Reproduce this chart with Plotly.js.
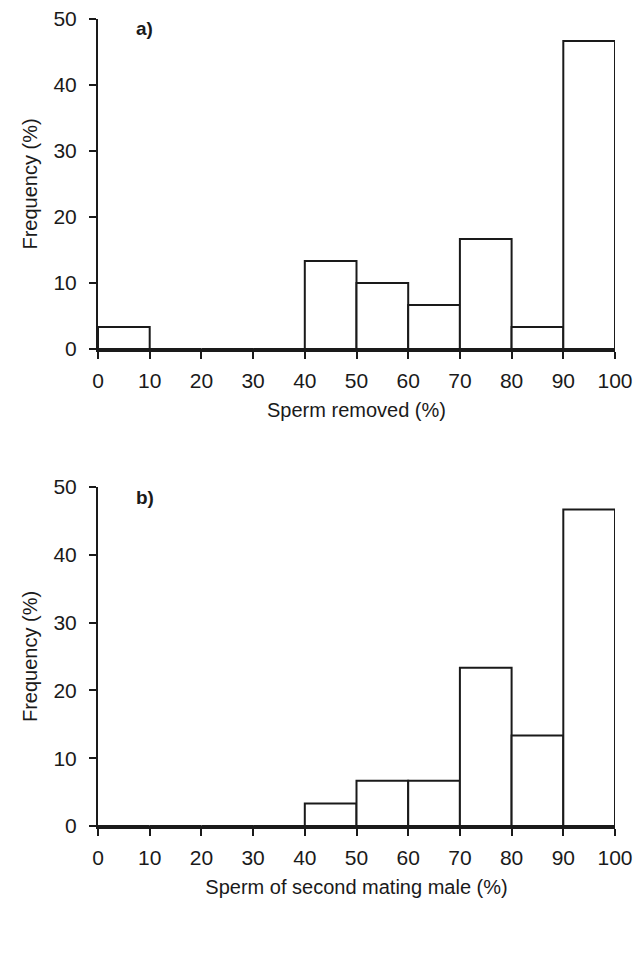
<!DOCTYPE html>
<html>
<head>
<meta charset="utf-8">
<script src="https://cdn.plot.ly/plotly-3.0.1.min.js"></script>
<style>html,body{margin:0;padding:0;background:#fff;}#chart{width:641px;height:958px;}</style>
</head>
<body>
<div id="chart"></div>
<script>
// Bin centres (%), bin width 10
const binCenters = [5, 15, 25, 35, 45, 55, 65, 75, 85, 95];
// Panel a) Sperm removed (%) – frequency (%)
const freqRemoved = [3.33, 0, 0, 0, 13.33, 10, 6.67, 16.67, 3.33, 46.67];
// Panel b) Sperm of second mating male (%) – frequency (%)
const freqSecondMale = [0, 0, 0, 0, 3.33, 6.67, 6.67, 23.33, 13.33, 46.67];
const xTicks = [0, 10, 20, 30, 40, 50, 60, 70, 80, 90, 100];
const yTicks = [0, 10, 20, 30, 40, 50];
const panelLabels = ["a)", "b)"];
const xTitles = ["Sperm removed (%)", "Sperm of second mating male (%)"];
const yTitle = "Frequency (%)";

const FONT = "Liberation Sans, Arial, Helvetica, sans-serif";
const INK = "#1a1a1a";

function barTrace(vals, xa, ya) {
  return {
    type: "bar", x: binCenters, y: vals, width: 10,
    xaxis: xa, yaxis: ya,
    marker: { color: "#ffffff", line: { color: INK, width: 2 } },
    hoverinfo: "skip", showlegend: false
  };
}

function xAxis(title, anchor) {
  return {
    domain: [0, 1], anchor: anchor, range: [0, 100],
    tickvals: xTicks, ticktext: xTicks.map(String),
    showgrid: false, zeroline: false,
    showline: true, linecolor: INK, linewidth: 3,
    ticks: "outside", ticklen: 7, tickwidth: 2, tickcolor: INK,
    ticklabelstandoff: 4,
    tickfont: { family: FONT, size: 21, color: INK },
    title: { text: title, font: { family: FONT, size: 20, color: INK }, standoff: 12 },
    fixedrange: true
  };
}
function yAxis(domain, anchor) {
  return {
    domain: domain, anchor: anchor, range: [0, 50],
    tickvals: yTicks, ticktext: yTicks.map(String),
    showgrid: false, zeroline: false,
    showline: true, linecolor: INK, linewidth: 2,
    ticks: "outside", ticklen: 7, tickwidth: 2, tickcolor: INK,
    ticklabelstandoff: 8,
    tickfont: { family: FONT, size: 21, color: INK },
    title: { text: yTitle, font: { family: FONT, size: 20, color: INK }, standoff: 10 },
    fixedrange: true
  };
}

const H = 958, T = 19, B = 132;
const plotH = H - T - B;
const topDomain = [(826 - 349) / plotH, 1];
const botDomain = [0, (826 - 487) / plotH];

const data = [
  barTrace(freqRemoved, "x", "y"),
  barTrace(freqSecondMale, "x2", "y2")
];

const layout = {
  width: 641, height: H,
  margin: { l: 98, r: 26, t: T, b: B },
  paper_bgcolor: "#fff", plot_bgcolor: "#fff",
  bargap: 0,
  font: { family: FONT, size: 20, color: INK },
  xaxis: xAxis(xTitles[0], "y"),
  yaxis: yAxis(topDomain, "x"),
  xaxis2: xAxis(xTitles[1], "y2"),
  yaxis2: yAxis(botDomain, "x2"),
  annotations: [
    { text: "<b>" + panelLabels[0] + "</b>", xref: "x", yref: "y", x: 7, y: 48.5,
      xanchor: "left", yanchor: "middle", showarrow: false,
      font: { family: FONT, size: 19, color: INK } },
    { text: "<b>" + panelLabels[1] + "</b>", xref: "x2", yref: "y2", x: 7, y: 48.5,
      xanchor: "left", yanchor: "middle", showarrow: false,
      font: { family: FONT, size: 19, color: INK } }
  ]
};

Plotly.newPlot("chart", data, layout, { displayModeBar: false, staticPlot: true });
</script>
</body>
</html>
